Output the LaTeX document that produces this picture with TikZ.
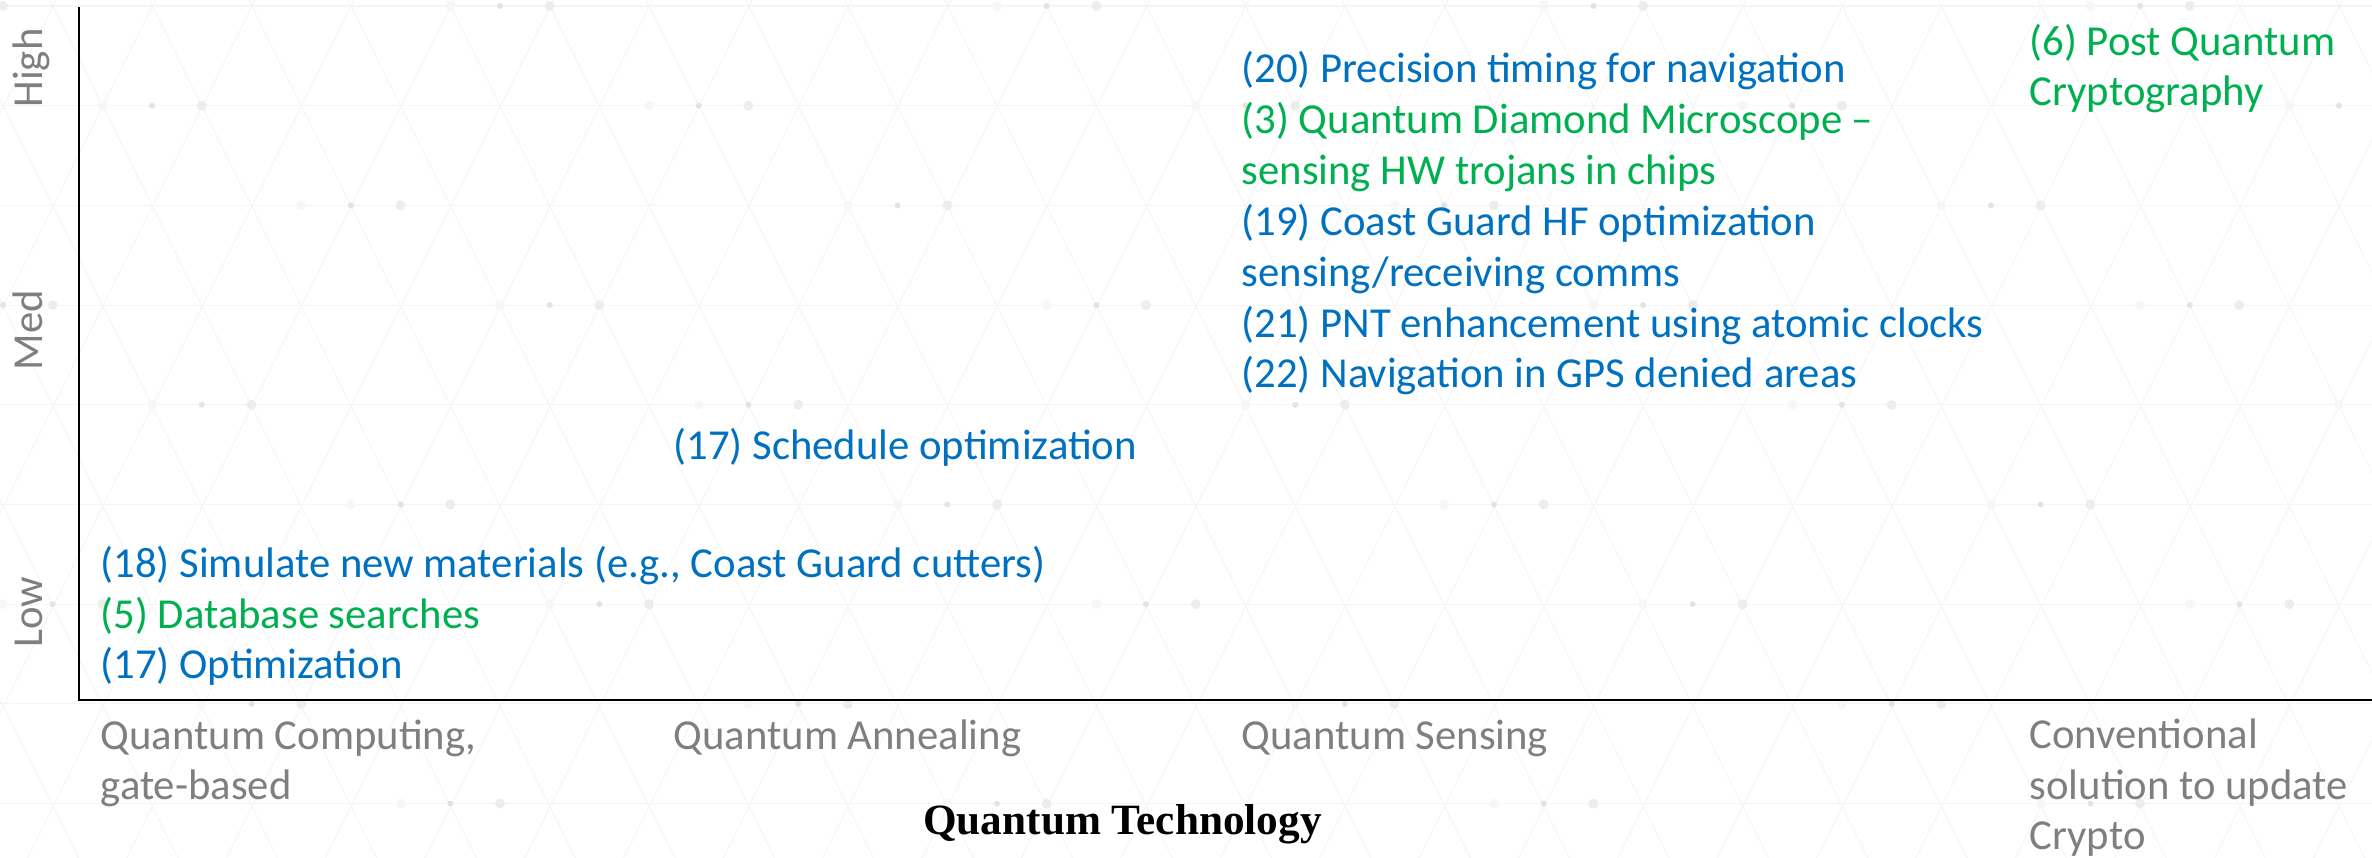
\documentclass[tikz,border=0pt]{standalone}
\usepackage{fontspec}
\setmainfont{Carlito}
\newfontfamily\titlefont{Liberation Serif}
\definecolor{itemblue}{HTML}{0070C0}
\definecolor{itemgreen}{HTML}{00B050}
\definecolor{axisgray}{HTML}{7F7F7F}
\colorlet{latticegray}{gray!8}

\tikzset{
  item/.style={anchor=base west, inner sep=0pt, align=left,
    font=\fontsize{12.15}{14.5}\selectfont},
  techlabel/.style={item, text=axisgray},
  levellabel/.style={rotate=90, anchor=base, inner sep=0pt, text=axisgray,
    font=\fontsize{12.15}{14.5}\selectfont},
  bgline/.style={latticegray, line width=0.3pt},
}

\begin{document}
\begin{tikzpicture}
  \useasboundingbox (0,0) rectangle (23.72,8.58);
  % background lattice
  \begin{scope}
    \clip (0,0) rectangle (23.72,8.58);
    \foreach \j in {0,...,8}
      \draw[bgline] (0,{8.52-0.997*\j}) -- (23.72,{8.52-0.997*\j});
    \foreach \k in {-6,...,29} {
      \draw[bgline] ({0.29+0.994*\k},9) -- ++(4.72,-9.5);
      \draw[bgline] ({0.77+0.994*\k},9) -- ++(-4.72,-9.5);
    }
    % dots on the lattice
    \foreach \j in {0,...,8}
      \foreach \n in {0,...,48} {
        \pgfmathtruncatemacro{\kind}{mod(7*\n+5*\j,11)}
        \ifnum\kind=0 \fill[gray!14] ({0.03+0.497*\n},{8.52-0.997*\j}) circle (0.05); \fi
        \ifnum\kind=4 \fill[gray!22] ({0.03+0.497*\n},{8.52-0.997*\j}) circle (0.03); \fi
        \ifnum\kind=8 \fill[gray!6] ({0.03+0.497*\n},{8.52-0.997*\j}) circle (0.05); \fi
      }
  \end{scope}

  % axes
  \coordinate (origin) at (0.79,1.58);
  \coordinate (ytop) at (0.79,8.51);
  \coordinate (xend) at (23.72,1.58);
  \draw[line width=0.7pt] (ytop) -- (origin) -- (xend);

  % level labels
  \node[levellabel] (high) at (0.43,7.90) {High};
  \node[levellabel] (med) at (0.43,5.28) {Med};
  \node[levellabel] (low) at (0.43,2.46) {Low};

  % technology labels (anchored at the last line)
  \node[techlabel] (gatelbl) at (1.00,0.58) {Quantum Computing,\\gate-based};
  \node[techlabel] (anneallbl) at (6.73,1.08) {Quantum Annealing};
  \node[techlabel] (sensinglbl) at (12.41,1.08) {Quantum Sensing};
  \node[techlabel] (convlbl) at (20.29,0.08) {Conventional\\solution to update\\Crypto};
  \node[anchor=base, inner sep=0pt, font={\titlefont\bfseries\fontsize{12.3}{14}\selectfont}]
    (techaxis) at (11.225,0.23) {Quantum Technology};

  % use cases
  \node[item] (gatecol) at (1.00,1.79)
    {\textcolor{itemblue}{(18) Simulate new materials (e.g., Coast Guard cutters)}\\
     \textcolor{itemgreen}{(5) Database searches}\\
     \textcolor{itemblue}{(17) Optimization}};
  \node[item, text=itemblue] (annealcol) at (6.73,3.98) {(17) Schedule optimization};
  \node[item] (sensingcol) at (12.41,4.70)
    {\textcolor{itemblue}{(20) Precision timing for navigation}\\
     \textcolor{itemgreen}{(3) Quantum Diamond Microscope \textendash}\\
     \textcolor{itemgreen}{sensing HW trojans in chips}\\
     \textcolor{itemblue}{(19) Coast Guard HF optimization}\\
     \textcolor{itemblue}{sensing/receiving comms}\\
     \textcolor{itemblue}{(21) PNT enhancement using atomic clocks}\\
     \textcolor{itemblue}{(22) Navigation in GPS denied areas}};
  \node[item, text=itemgreen] (convcol) at (20.29,7.52) {(6) Post Quantum\\Cryptography};
\end{tikzpicture}
\end{document}
